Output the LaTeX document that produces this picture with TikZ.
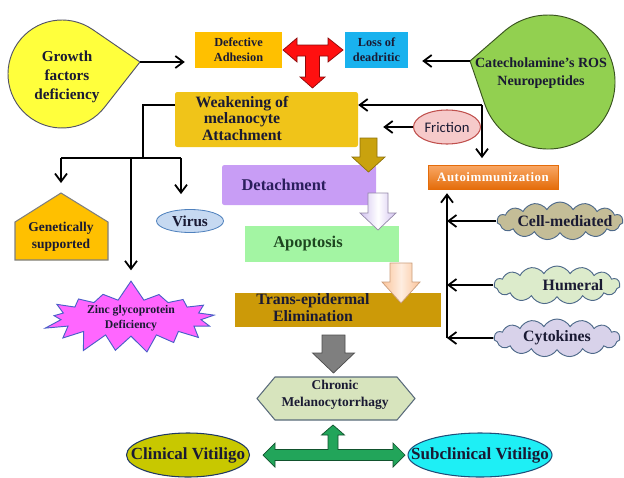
\documentclass[tikz,border=0pt]{standalone}
\usepackage{fontspec}
\setmainfont{Liberation Serif}
\newfontfamily\calib{Carlito}
\usetikzlibrary{arrows.meta,shapes.geometric,shapes.symbols,calc}

\definecolor{ink}{HTML}{1A1A33}
\definecolor{grow}{HTML}{FFFF3C}
\definecolor{adh}{HTML}{FFC000}
\definecolor{loss}{HTML}{19B2EE}
\definecolor{redT}{HTML}{FF1010}
\definecolor{weak}{HTML}{F0C419}
\definecolor{cate}{HTML}{92D050}
\definecolor{fric}{HTML}{F6CACA}
\definecolor{fricD}{HTML}{C0504D}
\definecolor{goldA}{HTML}{C9A20E}
\definecolor{det}{HTML}{C89DF5}
\definecolor{detT}{HTML}{2A1E5C}
\definecolor{apo}{HTML}{A3F5A3}
\definecolor{apoT}{HTML}{1E4620}
\definecolor{lavA}{HTML}{D2C2F0}
\definecolor{peach}{HTML}{FBC49A}
\definecolor{trans}{HTML}{CC9A08}
\definecolor{greyA}{HTML}{7F7F7F}
\definecolor{chron}{HTML}{D7E4BD}
\definecolor{chronD}{HTML}{5A6B7B}
\definecolor{greenA}{HTML}{22A55A}
\definecolor{clin}{HTML}{C8C800}
\definecolor{clinD}{HTML}{1F3864}
\definecolor{sub}{HTML}{1EEFF5}
\definecolor{subD}{HTML}{1F4E79}
\definecolor{autoL}{HTML}{F9A866}
\definecolor{autoD}{HTML}{E46C0A}
\definecolor{cellC}{HTML}{C4BD97}
\definecolor{humC}{HTML}{DCEBCB}
\definecolor{cytC}{HTML}{D8D2EA}
\definecolor{cloudD}{HTML}{4F6A8A}
\definecolor{vir}{HTML}{C6D9F1}
\definecolor{virD}{HTML}{4F81BD}
\definecolor{zinc}{HTML}{FF66FF}
\definecolor{zincD}{HTML}{4A5FC8}

\newcommand\pxu{0.03cm}

\begin{document}
\begin{tikzpicture}[
  x=0.03cm,y=-0.03cm,
  font=\bfseries,
  txt/.style={align=center,inner sep=0pt,text=ink},
  box/.style={align=center,inner sep=0pt,text=ink},
  oval/.style={ellipse,inner sep=0pt,line width=0.9pt,text=ink},
  puff/.style={cloud,cloud puffs=15,cloud puff arc=120,aspect=3.5,inner sep=0pt,
    line width=0.8pt,draw=cloudD,minimum width=3.78cm,minimum height=1.14cm,
    text=ink,font=\fontsize{13.5}{15}\selectfont\bfseries},
  arr/.style={line width=1.5pt,-{Straight Barb[length=2.4mm,width=3.6mm]}},
  ln/.style={line width=1.5pt},
  fat/.style={line width=0.6pt}
]
\useasboundingbox (0,0) rectangle (624,477);

% ---- top row ----
\node[box,fill=adh,minimum width=87*\pxu,minimum height=36*\pxu,
  font=\fontsize{10.5}{12.8}\selectfont\bfseries] (defect) at (238.5,50) {Defective\\Adhesion};
\node[box,fill=loss,minimum width=63*\pxu,minimum height=36*\pxu,
  font=\fontsize{10.5}{12.8}\selectfont\bfseries] (loss) at (376.5,50) {Loss of\\deadritic};
\filldraw[fill=redT,draw=redT!55!black,fat] (283,50) -- (297,38) -- (297,45) -- (328,45)
  -- (328,38) -- (343,50) -- (328,62) -- (328,56) -- (319.5,56) -- (319.5,77) -- (325,77)
  -- (312.5,88) -- (300,77) -- (305.5,77) -- (305.5,56) -- (297,56) -- (297,62) -- cycle;

% teardrops
\filldraw[fill=grow,draw=ink!75,line width=0.8pt] (140,62)
  -- ($(62,74)+(55.5:1.62cm)$) arc[start angle=55.5,end angle=321.9,radius=1.62cm] -- cycle;
\node[txt,font=\fontsize{13}{16.5}\selectfont\bfseries] (grow) at (67,77) {Growth\\factors\\deficiency};
\coordinate (growtip) at (140,62);
\draw[arr,shorten >=0.3cm] (growtip) -- (growtip -| defect.west);

\filldraw[fill=cate,draw=cate!40!black,line width=0.8pt] (470,61)
  -- ($(548,82)+(199.3:2.01cm)$) arc[start angle=199.3,end angle=491.9,radius=2.01cm] -- cycle;
\node[txt,font=\fontsize{12}{15}\selectfont\bfseries] (cate) at (541,73) {Catecholamine's ROS\\Neuropeptides};
\coordinate (catetip) at (470,61);
\draw[arr,shorten >=0.42cm] (catetip) -- (catetip -| loss.east);

% ---- weakening and its causes ----
\node[box,fill=weak,minimum width=183*\pxu,minimum height=55*\pxu,rounded corners=2pt] (weak) at (266.5,119.5) {};
\node[txt,font=\fontsize{13.5}{14.3}\selectfont\bfseries] (weaktxt) at (242,118.5) {Weakening of\\melanocyte\\Attachment};

\node[oval,draw=fricD,fill=fric,minimum width=67*\pxu,minimum height=34*\pxu,
  font=\calib\fontsize{12.5}{14}\selectfont] (fric) at (447,127) {\makebox[0pt]{Friction}};
\draw[arr,shorten >=0.75cm] (fric.west) -- (fric.west -| weak.east);

\node[box,draw=autoD,top color=autoL,bottom color=autoD,minimum width=130*\pxu,minimum height=24*\pxu,
  text=white,font=\fontsize{11}{12}\selectfont\bfseries\addfontfeatures{LetterSpace=4}] (auto) at (493,177) {Autoimmunization};
\coordinate (jr) at (482,105);
\draw[arr] (jr) -- (jr -| weak.east);
\draw[arr,shorten >=0.2cm] (jr) -- (jr |- auto.north);

% left tree
\filldraw[fill=adh,draw=greyA,line width=0.9pt] (15,222) -- (61,193) -- (108,222) -- (108,260) -- (15,260) -- cycle;
\node[txt,font=\fontsize{11.5}{14.5}\selectfont\bfseries] (gen) at (61,237) {Genetically\\supported};
\coordinate (genpeak) at (61,193);
\node[oval,draw=virD,fill=vir,line width=0.7pt,minimum width=67*\pxu,minimum height=23*\pxu,
  font=\fontsize{13}{14}\selectfont\bfseries] (virus) at (190,221) {\makebox[0pt]{Virus}};
\node[starburst,starburst points=17,starburst point height=0.62cm,random starburst=7,draw=zincD,fill=zinc,
  line width=0.8pt,minimum width=5.46cm,minimum height=1.89cm,inner sep=0pt,align=center,text=ink,
  font=\fontsize{10}{12.8}\selectfont\bfseries] (zinc) at (131,318) {Zinc glycoprotein\\Deficiency};

\coordinate (jl) at (143,158);
\coordinate (vj) at (181,158);
\draw[ln] (weak.west |- jr) -| (jl);
\draw[ln] (genpeak |- jl) -- (vj);
\draw[arr,shorten >=0.3cm] (genpeak |- jl) -- (genpeak);
\draw[arr,shorten >=0.45cm] (vj) -- (vj |- virus.north);
\draw[arr,shorten >=0.3cm] (zinc.north |- jl) -- (zinc.north);

% ---- central chain ----
\node[box,fill=det,minimum width=154*\pxu,minimum height=40*\pxu,rounded corners=2pt] (det) at (299,185) {};
\node[txt,text=detT,font=\fontsize{14}{16}\selectfont\bfseries] (dettxt) at (284,185) {Detachment};
\node[box,fill=apo,minimum width=154*\pxu,minimum height=36*\pxu] (apo) at (322,244) {};
\node[txt,text=apoT,font=\fontsize{14}{16}\selectfont\bfseries] (apotxt) at (308,244) {Apoptosis};
\node[box,fill=trans,minimum width=206*\pxu,minimum height=34*\pxu] (trans) at (338,310) {};
\node[txt,font=\fontsize{13.5}{14.5}\selectfont\bfseries] (transtxt) at (313,308) {Trans-epidermal\\Elimination};

\filldraw[fill=goldA,draw=goldA!70!black,fat] (360,138) -- (377,138) -- (377,157) -- (385,157)
  -- (368.5,172) -- (352,157) -- (360,157) -- cycle;
\path[draw=lavA!70!black,fat,left color=lavA,right color=lavA,middle color=white] (368,193) -- (388,193)
  -- (388,213) -- (396,213) -- (378,230) -- (360,213) -- (368,213) -- cycle;
\path[draw=peach!80!black,fat,left color=peach,right color=peach,middle color=peach!30] (390,263) -- (412,263)
  -- (412,282) -- (420,282) -- (401,303) -- (382,282) -- (390,282) -- cycle;
\filldraw[fill=greyA,draw=greyA!60!black,fat] (322,335) -- (345,335) -- (345,353) -- (354.5,353)
  -- (333.5,373) -- (312.5,353) -- (322,353) -- cycle;

% ---- outcome ----
\filldraw[fill=chron,draw=chronD,line width=0.9pt] (257,398.5) -- (275,377) -- (397,377) -- (415,398.5)
  -- (397,420) -- (275,420) -- cycle;
\node[txt,font=\fontsize{11.5}{14}\selectfont\bfseries] (chron) at (335,395) {Chronic\\Melanocytorrhagy};
\filldraw[fill=greenA,draw=greenA!50!black,fat] (263,455) -- (275,443) -- (275,449.5) -- (328,449.5)
  -- (328,435) -- (321.5,435) -- (333,425) -- (344.5,435) -- (338,435) -- (338,449.5) -- (393,449.5)
  -- (393,443) -- (405,455) -- (393,467) -- (393,460.5) -- (275,460.5) -- (275,467) -- cycle;
\node[oval,draw=clinD,fill=clin,minimum width=123*\pxu,minimum height=44*\pxu,
  font=\fontsize{14.5}{16}\selectfont\bfseries] (clin) at (188,455) {\makebox[0pt]{Clinical Vitiligo}};
\node[oval,draw=subD,fill=sub,minimum width=144*\pxu,minimum height=44*\pxu,
  font=\fontsize{14.5}{16}\selectfont\bfseries] (sub) at (480,455) {\makebox[0pt]{Subclinical Vitiligo}};

% ---- immune side ----
\node[puff,fill=cellC] (cell) at (560,221) {\makebox[0pt]{\hspace*{0.3cm}Cell-mediated}};
\node[puff,fill=humC] (hum) at (557,285) {\makebox[0pt]{\hspace*{0.96cm}Humeral}};
\node[puff,fill=cytC] (cyt) at (557,338) {\makebox[0pt]{Cytokines}};
\coordinate (vb) at (447,338);
\draw[arr,shorten >=0.12cm] (vb) -- (vb |- auto.south);
\draw[arr] (cell.west) -- (cell.west -| vb);
\draw[arr] (hum.west) -- (hum.west -| vb);
\draw[arr] (cyt.west) -- (vb);
\end{tikzpicture}
\end{document}
